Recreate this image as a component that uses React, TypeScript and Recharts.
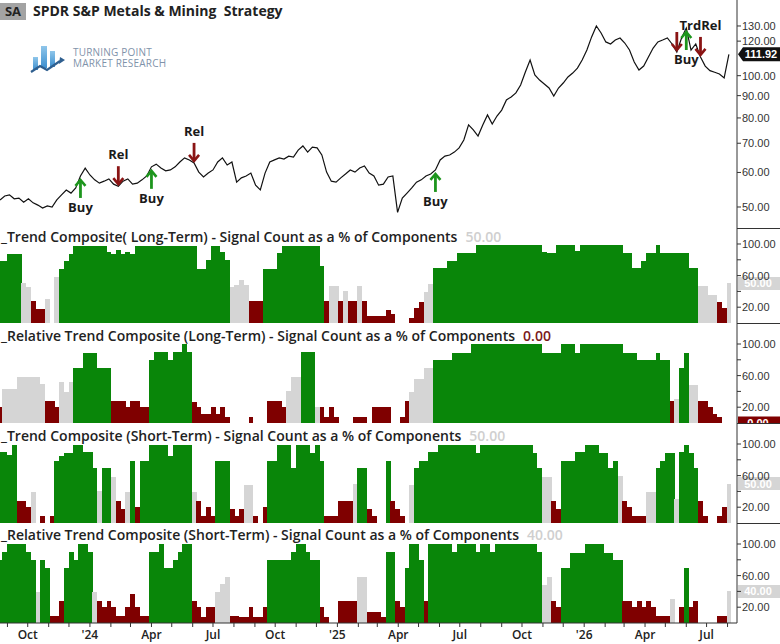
import React from 'react';
import { ComposedChart, Line, Bar, Cell, XAxis, YAxis, ReferenceLine } from 'recharts';

// ---------- DATA ----------
// weekly closes, first week starting 2023-08-21
const price = [
  51.9, 53.0, 53.3, 52.2, 52.4, 51.3, 52.2, 51.1, 50.5, 49.7,
  50.3, 50.0, 51.9, 53.3, 54.7, 53.8, 55.3, 58.9, 61.4, 59.2,
  57.7, 56.7, 57.3, 58.0, 56.4, 55.8, 57.3, 58.0, 56.4, 56.7,
  57.7, 58.9, 61.8, 62.7, 61.4, 60.5, 60.8, 61.8, 63.4, 64.8,
  64.1, 63.1, 60.1, 58.6, 59.8, 60.8, 63.4, 64.8, 62.4, 63.4,
  57.0, 58.3, 58.9, 59.8, 56.1, 54.7, 59.8, 63.4, 64.1, 64.8,
  64.4, 65.4, 65.1, 67.5, 69.0, 66.8, 68.6, 68.3, 65.8, 60.1,
  57.3, 57.0, 58.3, 59.5, 60.8, 60.1, 61.4, 62.1, 59.8, 58.9,
  56.1, 56.4, 58.6, 58.9, 48.6, 52.4, 53.8, 55.3, 57.0, 57.7,
  58.9, 59.5, 60.8, 64.1, 65.4, 65.8, 66.8, 68.3, 71.2, 77.1,
  75.1, 72.7, 77.1, 81.3, 77.5, 80.8, 83.4, 88.0, 89.4, 91.3,
  95.2, 102.0, 108.6, 100.4, 97.7, 95.7, 93.7, 89.8, 93.7, 96.2,
  99.3, 101.4, 104.1, 108.6, 114.5, 122.7, 130.0, 125.3, 119.5, 118.2,
  120.7, 122.0, 118.8, 114.5, 107.5, 103.0, 105.2, 110.4, 115.7, 119.5,
  120.7, 122.0, 118.2, 113.3, 122.0, 128.6, 114.5, 118.2, 110.4, 105.2,
  102.7, 101.8, 100.9, 98.8, 111.92,
];

const signalWeeks = [17, 25, 32, 41, 92, 143, 145, 148];
const signalKinds = ['buy', 'rel', 'buy', 'rel', 'buy', 'rel', 'buy', 'rel'];
const signalLabels = ['Buy', 'Rel', 'Buy', 'Rel', 'Buy', '', 'Buy', 'TrdRel'];

const p1Values = [
  79, 79, 87, 87, 87, 50, 45, 28, 18, 18,
  30, 0, 58, 68, 79, 87, 97, 97, 97, 97,
  97, 97, 97, 90, 87, 92, 87, 90, 87, 97,
  97, 97, 97, 97, 97, 97, 97, 97, 97, 97,
  97, 97, 68, 68, 80, 97, 97, 90, 80, 45,
  48, 55, 48, 28, 28, 28, 68, 68, 68, 88,
  97, 97, 97, 97, 97, 97, 97, 97, 72, 28,
  47, 47, 28, 41, 28, 28, 47, 28, 9, 9,
  9, 9, 17, 11, 0, 0, 0, 6, 19, 27,
  39, 49, 69, 69, 69, 79, 79, 89, 89, 89,
  89, 99, 99, 99, 99, 99, 99, 99, 99, 99,
  99, 99, 99, 99, 99, 90, 88, 88, 99, 99,
  99, 99, 91, 99, 99, 99, 99, 99, 99, 99,
  99, 99, 88, 88, 69, 69, 79, 88, 88, 99,
  88, 88, 88, 88, 88, 88, 69, 69, 47, 47,
  36, 36, 27, 19, 50,
];
const p1States =
  'gggggnnrrr' + 'nrnggggggg' + 'gggggggggg' + 'gggggggggg' + 'gggggggggn' +
  'nnnrrrgggg' + 'gggggggggr' + 'nnrnrrnrrr' + 'rrrrrrrrrr' + 'nngggggggg' +
  'gggggggggg' + 'gggggggggg' + 'gggggggggg' + 'gggggggggg' + 'ggggggggnn' + 'nnrrn';

const p2Values = [
  20, 43, 43, 43, 58, 58, 58, 58, 58, 50,
  28, 28, 20, 52, 39, 52, 69, 69, 88, 88,
  88, 69, 69, 69, 28, 28, 28, 20, 28, 28,
  20, 20, 80, 90, 90, 90, 80, 90, 90, 100,
  90, 26, 20, 11, 11, 20, 11, 20, 7, 0,
  0, 0, 0, 7, 0, 0, 0, 28, 28, 28,
  20, 40, 58, 58, 90, 90, 90, 20, 20, 7,
  20, 7, 0, 0, 0, 7, 7, 7, 0, 20,
  20, 20, 20, 0, 0, 7, 28, 39, 56, 56,
  69, 69, 80, 80, 80, 80, 89, 89, 89, 89,
  100, 100, 100, 100, 100, 100, 100, 100, 100, 100,
  100, 100, 100, 100, 100, 89, 89, 89, 89, 100,
  100, 100, 89, 100, 100, 100, 100, 100, 100, 100,
  100, 100, 89, 89, 89, 80, 80, 80, 80, 89,
  80, 80, 28, 30, 69, 89, 48, 48, 28, 28,
  20, 11, 7, 0, 0,
];
const p2States =
  'rnnnnnnnnn' + 'rrrnnngggg' + 'ggggrrrrrr' + 'rrgggggggg' + 'grrrrrrrrr' +
  'rrrrrrrrrr' + 'rnnngggnrr' + 'rrrrrrrrrr' + 'rrrrrrrnnn' + 'nngggggggg' +
  'gggggggggg' + 'gggggggggg' + 'gggggggggg' + 'gggggggggg' + 'ggrnggnnrr' + 'rrrrr';

const p3Values = [
  90, 90, 86, 99, 28, 28, 20, 39, 0, 9,
  0, 9, 79, 85, 89, 89, 99, 99, 90, 90,
  69, 40, 69, 69, 58, 28, 18, 39, 79, 20,
  79, 79, 99, 99, 99, 99, 85, 99, 99, 99,
  99, 39, 28, 9, 20, 9, 79, 79, 79, 18,
  9, 18, 48, 48, 9, 0, 20, 79, 79, 99,
  99, 99, 69, 99, 99, 99, 89, 99, 79, 9,
  9, 9, 28, 28, 28, 50, 69, 69, 18, 9,
  0, 0, 79, 28, 18, 9, 0, 48, 69, 79,
  79, 90, 90, 99, 99, 99, 99, 99, 99, 99,
  99, 88, 99, 99, 99, 99, 99, 99, 99, 99,
  99, 99, 99, 88, 69, 58, 58, 28, 18, 79,
  79, 79, 90, 90, 99, 99, 99, 89, 89, 69,
  79, 60, 28, 20, 9, 9, 9, 39, 39, 69,
  79, 89, 89, 30, 90, 99, 89, 69, 28, 9,
  0, 0, 9, 20, 50,
];
const p3States =
  'ggggrrrnrr' + 'rrgggggggg' + 'gnggnrrngr' + 'gggggggggg' + 'gnrrrrgggr' +
  'rrnnrrrggg' + 'gggggggggr' + 'rrrrrnggrr' + 'rrgrrrrngg' + 'gggggggggg' +
  'gggggggggg' + 'gggggnnrrg' + 'gggggggggg' + 'gnrrrrrnng' + 'gggnggggrr' + 'rrrrn';

const p4Values = [
  80, 90, 100, 100, 100, 100, 90, 80, 39, 80,
  69, 9, 9, 28, 69, 90, 80, 100, 100, 90,
  39, 28, 20, 28, 20, 9, 9, 20, 37, 20,
  9, 9, 90, 90, 100, 69, 69, 80, 90, 100,
  100, 28, 20, 7, 20, 20, 39, 50, 58, 9,
  9, 7, 7, 20, 7, 7, 20, 80, 80, 80,
  80, 80, 90, 100, 100, 90, 80, 80, 20, 7,
  0, 0, 28, 28, 28, 28, 58, 58, 14, 14,
  14, 7, 90, 90, 28, 20, 69, 100, 100, 80,
  28, 100, 100, 100, 100, 100, 90, 100, 100, 100,
  100, 90, 100, 100, 90, 100, 100, 100, 100, 100,
  100, 100, 100, 100, 90, 48, 58, 28, 20, 69,
  69, 89, 89, 89, 100, 100, 100, 100, 89, 89,
  80, 80, 28, 28, 20, 28, 20, 28, 20, 9,
  9, 9, 30, 0, 20, 69, 20, 28, 0, 0,
  0, 0, 9, 9, 40,
];
const p4States =
  'ggggggggng' + 'grrrgggggg' + 'nrrrrrrrrr' + 'rrgggggggg' + 'grrrrrnnnr' +
  'rrrrrrrggg' + 'ggggggggrr' + 'rrrrrrnnrr' + 'rrggrrgggg' + 'rggggggggg' +
  'gggggggggg' + 'gggggnnrrg' + 'gggggggggg' + 'ggrrrrrrrr' + 'rrnrrgrrrr' + 'rrrrn';

const panelTitles = [
  '_Trend Composite( Long-Term) - Signal Count as a % of Components',
  '_Relative Trend Composite (Long-Term) - Signal Count as a % of Components',
  '_Trend Composite (Short-Term) - Signal Count as a % of Components',
  '_Relative Trend Composite (Short-Term) - Signal Count as a % of Components',
];

const priceTicks = [50, 60, 70, 80, 90, 100, 120, 130];
const panelTicks = [20, 40, 60, 80, 100];
const panelTickLabels = [20, 60, 100];
const xLabelMonths = ['2023-10', '2024-01', '2024-04', '2024-07', '2024-10', '2025-01', '2025-04', '2025-07', '2025-10', '2026-01', '2026-04', '2026-07'];
const xLabelTexts = ['Oct', "'24", 'Apr', 'Jul', 'Oct', "'25", 'Apr', 'Jul', 'Oct', "'26", 'Apr', 'Jul'];

// ---------- STYLE / LAYOUT ----------
const FONT = "'Open Sans', 'DejaVu Sans', sans-serif";
const AXIS_FONT = "'Liberation Sans', Arial, sans-serif";
const GREEN = '#098609';
const RED = '#7f0000';
const GRAY = '#d5d5d5';
const W = 780;
const AXIS_W = 43;
const PRICE_H = 228;
const X_AXIS_H = 21;
const BAR_W = 4.95;
const panelLayout = [
  { top: 228, height: 95, max: 120.25 },
  { top: 323, height: 100, max: 126.6 },
  { top: 423, height: 100, max: 126.6 },
  { top: 523, height: 100, max: 126.6 },
];
const titleTops = [228, 327, 427, 526];

const DAY = 86400000;
const firstWeek = Date.UTC(2023, 7, 21);
const axisStart = Date.UTC(2023, 7, 21);
const axisEnd = Date.UTC(2026, 7, 15);

const rows = price.map((p, i) => ({
  t: firstWeek + i * 7 * DAY,
  price: p,
  p1: p1Values[i],
  p2: p2Values[i],
  p3: p3Values[i],
  p4: p4Values[i],
}));

const monthTicks: number[] = [];
for (let k = 0; k < 36; k++) monthTicks.push(Date.UTC(2023, 8 + k, 1));

const panels = [
  { key: 'p1', values: p1Values, states: p1States },
  { key: 'p2', values: p2Values, states: p2States },
  { key: 'p3', values: p3Values, states: p3States },
  { key: 'p4', values: p4Values, states: p4States },
];

const stateColor = (c: string) => (c === 'g' ? GREEN : c === 'r' ? RED : GRAY);

// ---------- RENDER HELPERS ----------
const renderSignal = (props: any) => {
  const { cx, cy, index } = props;
  const k = signalWeeks.indexOf(index);
  if (k < 0 || cx == null || cy == null) return <g key={`s${index}`} />;
  const kind = signalKinds[k];
  const label = signalLabels[k];
  if (kind === 'buy') {
    const c = '#1d951d';
    const tip = cy + 4;
    return (
      <g key={`s${index}`}>
        <line x1={cx} y1={tip + 1} x2={cx} y2={tip + 18} stroke={c} strokeWidth={2.8} />
        <polyline points={`${cx - 5},${tip + 6} ${cx},${tip} ${cx + 5},${tip + 6}`} fill="none" stroke={c} strokeWidth={2.6} />
        {label && (
          <text x={cx} y={tip + 32} textAnchor="middle" fontFamily={FONT} fontWeight={700} fontSize={13} fill="#1a1a1a">{label}</text>
        )}
      </g>
    );
  }
  const c = '#8a1414';
  const tip = cy - 2;
  return (
    <g key={`s${index}`}>
      <line x1={cx} y1={tip - 1} x2={cx} y2={tip - 18} stroke={c} strokeWidth={2.8} />
      <polyline points={`${cx - 5},${tip - 6} ${cx},${tip} ${cx + 5},${tip - 6}`} fill="none" stroke={c} strokeWidth={2.6} />
      {label && (
        <text x={cx} y={tip - 25} textAnchor="middle" fontFamily={FONT} fontWeight={700} fontSize={13} fill="#1a1a1a">{label}</text>
      )}
    </g>
  );
};

const BarShape = (props: any) => {
  const { x, y, width, height, fill } = props;
  if (x == null || y == null || !height) return <g />;
  const cx = x + width / 2;
  return <rect x={cx - BAR_W / 2} y={y} width={BAR_W} height={height} fill={fill} shapeRendering="crispEdges" />;
};

const PanelTick = (props: any) => {
  const { x, y, payload } = props;
  if (!panelTickLabels.includes(payload.value)) return <g />;
  return (
    <text x={x} y={y} dy={4} fontSize={11} fontFamily={AXIS_FONT} fill="#333">{Number(payload.value).toFixed(2)}</text>
  );
};

const XTick = (props: any) => {
  const { x, y, payload } = props;
  const d = new Date(payload.value);
  const key = `${d.getUTCFullYear()}-${String(d.getUTCMonth() + 1).padStart(2, '0')}`;
  const idx = xLabelMonths.indexOf(key);
  if (idx < 0) return <g />;
  return (
    <text x={x} y={y} dy={10} textAnchor="middle" fontSize={12} fontWeight={600} fontFamily={FONT} fill="#222">{xLabelTexts[idx]}</text>
  );
};

const ValueTag = (props: any) => {
  const { viewBox, text, bg, fg, pointer } = props;
  if (!viewBox) return null;
  const x = viewBox.x + viewBox.width + 1;
  const y = viewBox.y;
  const h = pointer ? 14 : 13;
  const d = pointer
    ? `M${x},${y} L${x + 5},${y - h / 2} L${x + 43},${y - h / 2} L${x + 43},${y + h / 2} L${x + 5},${y + h / 2} Z`
    : `M${x},${y - h / 2} L${x + 43},${y - h / 2} L${x + 43},${y + h / 2} L${x},${y + h / 2} Z`;
  return (
    <g>
      <path d={d} fill={bg} />
      <text x={x + (pointer ? 23 : 20)} y={y} dy={4} textAnchor="middle" fontSize={11} fontWeight={700} fontFamily={AXIS_FONT} fill={fg}>{text}</text>
    </g>
  );
};

function PriceChart() {
  const last = price[price.length - 1];
  return (
    <ComposedChart width={W} height={PRICE_H} data={rows} margin={{ top: 0, right: 0, bottom: 0, left: 0 }}>
      <XAxis dataKey="t" type="number" domain={[axisStart, axisEnd]} allowDataOverflow hide />
      <YAxis
        orientation="right"
        width={AXIS_W}
        scale="log"
        type="number"
        domain={[44.75, 149.1]}
        allowDataOverflow
        ticks={priceTicks}
        interval={0}
        tickFormatter={(v: number) => v.toFixed(2)}
        tick={{ fontSize: 11, fill: '#333', fontFamily: AXIS_FONT }}
        tickSize={4}
        tickMargin={1}
        axisLine={{ stroke: '#333' }}
        tickLine={{ stroke: '#333' }}
      />
      <Line dataKey="price" type="linear" stroke="#111" strokeWidth={1.2} dot={renderSignal} activeDot={false} isAnimationActive={false} />
      <ReferenceLine y={last} stroke="none" label={<ValueTag text={last.toFixed(2)} bg="#111" fg="#fff" pointer />} />
    </ComposedChart>
  );
}

function PanelChart({ idx }: { idx: number }) {
  const cfg = panelLayout[idx];
  const p = panels[idx];
  const isLast = idx === panels.length - 1;
  const lastVal = p.values[p.values.length - 1];
  const lastState = p.states[p.states.length - 1];
  return (
    <ComposedChart
      width={W}
      height={cfg.height + (isLast ? X_AXIS_H : 0)}
      data={rows}
      margin={{ top: 0, right: 0, bottom: 0, left: 0 }}
      barCategoryGap={0}
      barGap={0}
    >
      <XAxis
        dataKey="t"
        type="number"
        domain={[axisStart, axisEnd]}
        allowDataOverflow
        hide={!isLast}
        ticks={monthTicks}
        interval={0}
        tick={<XTick />}
        tickSize={4}
        height={X_AXIS_H}
        axisLine={{ stroke: '#333' }}
        tickLine={{ stroke: '#333' }}
      />
      <YAxis
        orientation="right"
        width={AXIS_W}
        type="number"
        domain={[0, cfg.max]}
        allowDataOverflow
        ticks={panelTicks}
        interval={0}
        tick={<PanelTick />}
        tickSize={4}
        tickMargin={1}
        axisLine={{ stroke: '#333' }}
        tickLine={{ stroke: '#333' }}
      />
      <Bar dataKey={p.key} shape={<BarShape />} isAnimationActive={false}>
        {rows.map((_, i) => (
          <Cell key={i} fill={stateColor(p.states[i])} />
        ))}
      </Bar>
      <ReferenceLine
        y={lastVal}
        stroke="none"
        label={<ValueTag text={lastVal.toFixed(2)} bg={stateColor(lastState)} fg="#fff" />}
      />
    </ComposedChart>
  );
}

function Logo() {
  return (
    <div style={{ position: 'absolute', left: 30, top: 42 }}>
      <svg width={140} height={34}>
        <defs>
          <linearGradient id="lg" x1="0" y1="0" x2="0" y2="1">
            <stop offset="0" stopColor="#8fc6ea" />
            <stop offset="1" stopColor="#3d8fcf" />
          </linearGradient>
        </defs>
        <rect x={3} y={15} width={5} height={13} fill="url(#lg)" />
        <rect x={11} y={4} width={6} height={22} fill="url(#lg)" />
        <rect x={20} y={9} width={5} height={16} fill="url(#lg)" />
        <polyline points="1,30 10,24 17,28 30,19" fill="none" stroke="#2f5f8f" strokeWidth={2.2} />
        <polygon points="30,15 35,18 29,22" fill="#2f5f8f" />
      </svg>
      <div style={{ position: 'absolute', left: 43, top: 5, fontFamily: FONT, fontSize: 10, lineHeight: '11px', color: '#7f93aa', letterSpacing: 0.2, whiteSpace: 'nowrap' }}>
        TURNING POINT<br />MARKET RESEARCH
      </div>
    </div>
  );
}

export default function App() {
  return (
    <div style={{ position: 'absolute', left: 0, top: 0, width: W, height: 644, background: '#fff', overflow: 'hidden' }}>
      <div style={{ position: 'absolute', left: 0, top: 0 }}>
        <PriceChart />
      </div>
      {panelLayout.map((cfg, i) => (
        <div key={i} style={{ position: 'absolute', left: 0, top: cfg.top }}>
          <PanelChart idx={i} />
        </div>
      ))}
      {/* axis-area separators */}
      {panelLayout.map((cfg, i) => (
        <div key={`sep${i}`} style={{ position: 'absolute', left: W - AXIS_W, top: cfg.top, width: AXIS_W, height: 0, borderTop: '1.5px solid #333' }} />
      ))}
      {/* header */}
      <div style={{ position: 'absolute', left: 0, top: 3, width: 26, height: 17, background: '#a3a3a3', fontFamily: FONT, fontWeight: 700, fontSize: 13, lineHeight: '17px', textAlign: 'center', color: '#222' }}>SA</div>
      <div style={{ position: 'absolute', left: 33, top: 2, fontFamily: FONT, fontWeight: 700, fontSize: 14, lineHeight: '18px', color: '#222', whiteSpace: 'pre' }}>
        SPDR S&amp;P Metals &amp; Mining  Strategy
      </div>
      <Logo />
      {panelTitles.map((t, i) => {
        const p = panels[i];
        const lv = p.values[p.values.length - 1];
        const st = p.states[p.states.length - 1];
        return (
          <div key={`t${i}`} style={{ position: 'absolute', left: 1, top: titleTops[i], fontFamily: FONT, fontWeight: 600, fontSize: 14, lineHeight: '17px', color: '#222', whiteSpace: 'pre' }}>
            {t}
            <span style={{ color: st === 'r' ? '#7a1a1a' : '#cfcfcf', marginLeft: 8 }}>{lv.toFixed(2)}</span>
          </div>
        );
      })}
    </div>
  );
}
